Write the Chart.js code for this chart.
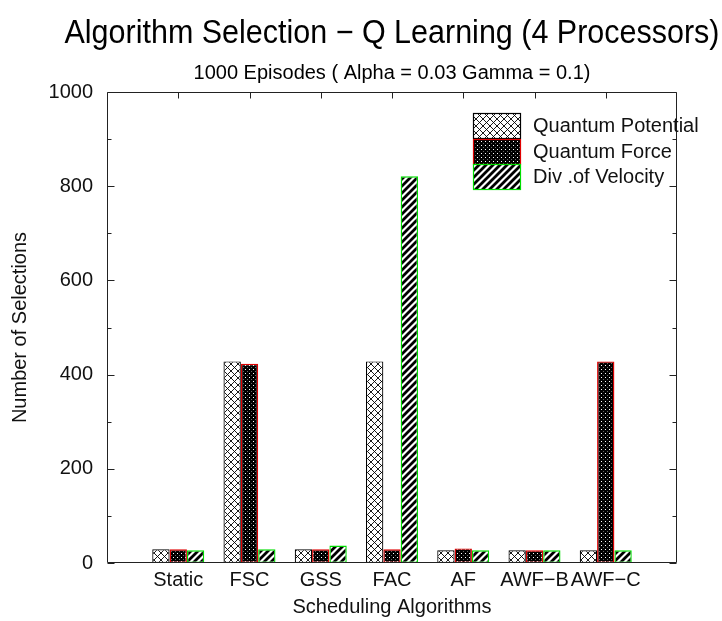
<!DOCTYPE html>
<html>
<head>
<meta charset="utf-8">
<script src="https://cdn.jsdelivr.net/npm/chart.js@4.4.0/dist/chart.umd.min.js"></script>
<style>
  html, body { margin: 0; padding: 0; background: #fff; }
  #wrap { width: 722px; height: 621px; }
</style>
</head>
<body>
<div id="wrap"><canvas id="c" width="722" height="621"></canvas></div>
<script>
const titleText = 'Algorithm Selection \u2212 Q Learning (4 Processors)';
const subtitleText = '1000 Episodes ( Alpha = 0.03 Gamma = 0.1)';
const xTitle = 'Scheduling Algorithms';
const yTitle = 'Number of Selections';

const categories = ['Static', 'FSC', 'GSS', 'FAC', 'AF', 'AWF\u2212B', 'AWF\u2212C'];
const seriesNames = ['Quantum Potential', 'Quantum Force', 'Div .of Velocity'];
const quantumPotential = [29, 428, 29, 428, 27, 27, 27];
const quantumForce = [29, 423, 29, 29, 31, 27, 428];
const divVelocity = [27, 29, 37, 821, 27, 27, 27];
const yMajorTicks = [0, 200, 400, 600, 800, 1000];
const yMinorTicks = [100, 300, 500, 700, 900];

const FONT = "'Liberation Sans', Arial, Helvetica, sans-serif";

function makePattern(w, h, draw) {
  const c = document.createElement('canvas');
  c.width = w; c.height = h;
  const g = c.getContext('2d');
  draw(g, w, h);
  return document.getElementById('c').getContext('2d').createPattern(c, 'repeat');
}
const crossPattern = makePattern(7, 7, (g, w, h) => {
  g.fillStyle = '#fff'; g.fillRect(0, 0, w, h);
  g.strokeStyle = '#000'; g.lineWidth = 0.9;
  g.beginPath();
  g.moveTo(0, 0); g.lineTo(w, h);
  g.moveTo(0, h); g.lineTo(w, 0);
  g.stroke();
});
const dotPattern = makePattern(4, 4, (g, w, h) => {
  g.fillStyle = '#000'; g.fillRect(0, 0, w, h);
  g.fillStyle = '#fff'; g.fillRect(1, 1, 1, 1);
  g.fillStyle = '#666'; g.fillRect(3, 3, 1, 1);
});
const stripePattern = makePattern(7, 7, (g, w, h) => {
  g.fillStyle = '#fff'; g.fillRect(0, 0, w, h);
  g.strokeStyle = '#000'; g.lineWidth = 2.8;
  g.beginPath();
  g.moveTo(-1, 1); g.lineTo(1, -1);
  g.moveTo(0, h); g.lineTo(w, 0);
  g.moveTo(w - 1, h + 1); g.lineTo(w + 1, h - 1);
  g.stroke();
});

const xLabels = ['', ...categories, ''];
const pad = arr => [null, ...arr, null];

const framePlugin = {
  id: 'frame',
  beforeDatasetsDraw(chart) {
    const { ctx, chartArea: a, scales: { x } } = chart;
    ctx.save();
    ctx.strokeStyle = '#222'; ctx.lineWidth = 1;
    ctx.beginPath();
    for (let i = 1; i <= categories.length; i++) {
      const px = Math.round(x.getPixelForValue(i)) + 0.5;
      ctx.moveTo(px, a.bottom); ctx.lineTo(px, a.bottom - 6);
    }
    ctx.stroke();
    ctx.restore();
  },
  afterDatasetsDraw(chart) {
    const { ctx, chartArea: a, scales: { x, y } } = chart;
    ctx.save();
    ctx.strokeStyle = '#222'; ctx.lineWidth = 1;
    const L = Math.round(a.left) + 0.5, R = Math.round(a.right) - 0.5;
    const T = Math.round(a.top) + 0.5, B = Math.round(a.bottom) - 0.5;
    ctx.beginPath();
    ctx.rect(L, T, R - L, B - T);
    yMajorTicks.forEach(v => {
      const py = Math.round(y.getPixelForValue(v)) + 0.5;
      ctx.moveTo(L, py); ctx.lineTo(L + 7, py);
      ctx.moveTo(R, py); ctx.lineTo(R - 7, py);
    });
    yMinorTicks.forEach(v => {
      const py = Math.round(y.getPixelForValue(v)) + 0.5;
      ctx.moveTo(L, py); ctx.lineTo(L + 4, py);
      ctx.moveTo(R, py); ctx.lineTo(R - 4, py);
    });
    for (let i = 1; i <= categories.length; i++) {
      const px = Math.round(x.getPixelForValue(i)) + 0.5;
      ctx.moveTo(px, T); ctx.lineTo(px, T + 6);
    }
    ctx.stroke();

    // titles
    const cx = (a.left + a.right) / 2;
    ctx.fillStyle = '#000';
    ctx.textAlign = 'center';
    ctx.textBaseline = 'middle';
    ctx.font = '33px ' + FONT;
    ctx.fillText(titleText, cx, 34, 655);
    ctx.font = '20px ' + FONT;
    ctx.fillText(subtitleText, cx, 73, 410);

    // legend
    const boxX = 473, boxW = 48, boxH = 25.5, top0 = 113;
    ctx.textAlign = 'left';
    ctx.font = '20px ' + FONT;
    chart.data.datasets.forEach((ds, i) => {
      const by = top0 + i * boxH;
      ctx.fillStyle = ds.backgroundColor;
      ctx.fillRect(boxX, by, boxW, boxH);
      ctx.strokeStyle = ds.borderColor;
      ctx.lineWidth = 1.2;
      ctx.strokeRect(boxX + 0.5, Math.round(by) + 0.5, boxW - 1, Math.round(boxH) - 1);
      ctx.fillStyle = '#111';
      ctx.fillText(ds.label, 533, by + boxH / 2 + 1);
    });
    ctx.restore();
  }
};

new Chart(document.getElementById('c'), {
  type: 'bar',
  data: {
    labels: xLabels,
    datasets: [
      { label: seriesNames[0], data: pad(quantumPotential), backgroundColor: crossPattern, borderColor: '#000', borderWidth: 1.2, borderSkipped: false },
      { label: seriesNames[1], data: pad(quantumForce), backgroundColor: dotPattern, borderColor: '#e00000', borderWidth: 1.4, borderSkipped: false },
      { label: seriesNames[2], data: pad(divVelocity), backgroundColor: stripePattern, borderColor: '#00dd00', borderWidth: 1.4, borderSkipped: false }
    ]
  },
  plugins: [framePlugin],
  options: {
    responsive: false,
    animation: false,
    devicePixelRatio: 1,
    layout: { padding: { top: 92, left: 0, right: 45, bottom: 0 } },
    datasets: { bar: { categoryPercentage: 0.73, barPercentage: 1.0 } },
    plugins: {
      legend: { display: false },
      title: { display: false },
      tooltip: { enabled: false }
    },
    scales: {
      x: {
        type: 'category',
        offset: false,
        grid: { display: false, drawTicks: false },
        border: { display: false },
        ticks: { autoSkip: false, maxRotation: 0, minRotation: 0, padding: 5, color: '#111', font: { family: FONT, size: 20 } },
        title: { display: true, text: xTitle, color: '#111', font: { family: FONT, size: 20 }, padding: { top: 0, bottom: 2 } },
        afterFit(s) { s.height = 58; }
      },
      y: {
        min: 0, max: 1000,
        grid: { display: false, drawTicks: false },
        border: { display: false },
        afterBuildTicks(s) { s.ticks = yMajorTicks.map(v => ({ value: v })); },
        ticks: { padding: 14, color: '#111', font: { family: FONT, size: 20 }, callback: v => String(v) },
        title: { display: true, text: yTitle, color: '#111', font: { family: FONT, size: 20 }, padding: { top: 8, bottom: 0 } },
        afterFit(s) { s.width = 107; }
      }
    }
  }
});
</script>
</body>
</html>
